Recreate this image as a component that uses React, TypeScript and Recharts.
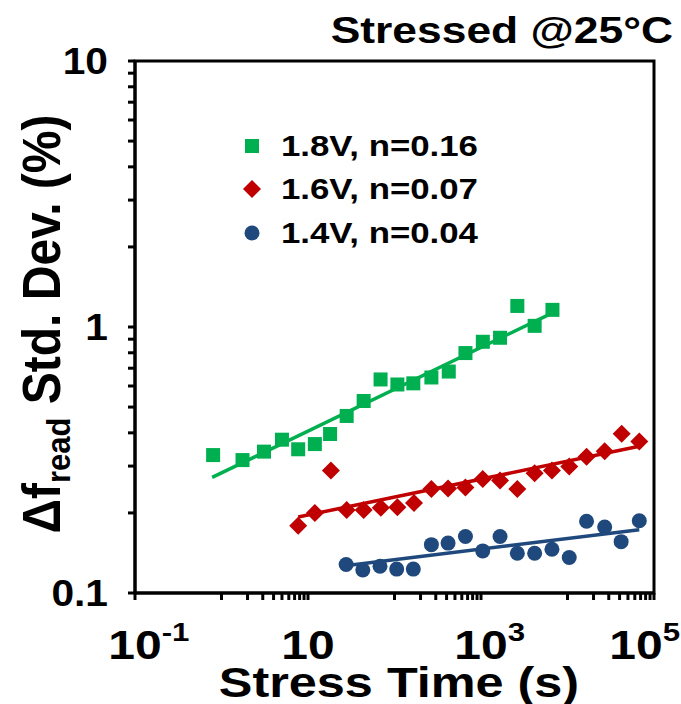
import { ScatterChart, Scatter, XAxis, YAxis, ReferenceArea } from 'recharts';

// 1.8V stress (green squares)
const time18 = [0.8, 1.75, 3.1, 5.0, 7.7, 12, 18, 28, 44, 69, 108, 165, 267, 424, 661, 1050, 1660, 2630, 4170, 6700];
const dev18 = [0.330, 0.316, 0.340, 0.377, 0.347, 0.363, 0.396, 0.463, 0.527, 0.635, 0.608, 0.614, 0.646, 0.680, 0.798, 0.880, 0.911, 1.20, 1.01, 1.16];

// 1.6V stress (red diamonds)
const time16 = [7.7, 12, 18.4, 28, 44, 69.5, 108, 168, 267, 416, 661, 1047, 1660, 2630, 4170, 6610, 10470, 16600, 26900, 42300, 67600];
const dev16 = [0.179, 0.200, 0.289, 0.205, 0.205, 0.209, 0.210, 0.218, 0.246, 0.247, 0.249, 0.268, 0.265, 0.246, 0.282, 0.289, 0.299, 0.325, 0.341, 0.397, 0.371];

// 1.4V stress (blue circles)
const time14 = [27.6, 43, 68, 106, 165, 267, 416, 661, 1047, 1660, 2630, 4170, 6610, 10470, 16600, 26900, 41700, 67600];
const dev14 = [0.128, 0.122, 0.126, 0.123, 0.123, 0.152, 0.154, 0.163, 0.144, 0.163, 0.141, 0.141, 0.146, 0.136, 0.186, 0.177, 0.156, 0.187];

// power-law fit lines, end points
const fitTime18 = [0.78, 6900];
const fitDev18 = [0.272, 1.135];
const fitTime16 = [7.7, 67600];
const fitDev16 = [0.193, 0.356];
const fitTime14 = [28.4, 67600];
const fitDev14 = [0.127, 0.173];

const legendLabels = ['1.8V, n=0.16', '1.6V, n=0.07', '1.4V, n=0.04'];

const xTicks = [0.1, 1, 2, 3, 4, 5, 6, 7, 8, 9, 10, 100, 200, 300, 400, 500, 600, 700, 800, 900, 1000,
  10000, 20000, 30000, 40000, 50000, 60000, 70000, 80000, 90000, 100000];
const xTickLabels = [
  { value: 0.1, exp: '-1' },
  { value: 10, exp: '' },
  { value: 1000, exp: '3' },
  { value: 100000, exp: '5' },
];
const yTicks = [0.1, 0.2, 0.3, 0.4, 0.5, 0.6, 0.7, 0.8, 0.9, 1, 2, 3, 4, 5, 6, 7, 8, 9, 10];
const yTickLabels = [
  { value: 0.1, text: '0.1' },
  { value: 1, text: '1' },
  { value: 10, text: '10' },
];

const GREEN = '#00B050';
const RED = '#C00000';
const BLUE = '#1F497D';
const FONT = '"Liberation Sans", Arial, sans-serif';
const SX = 1.2; // glyphs in the original are a bit wide

const CHART_W = 681;

const toPoints = (xs: number[], ys: number[]) => xs.map((t, i) => ({ t, d: ys[i] }));

const same = (a: number, b: number) => Math.abs(a / b - 1) < 1e-6;

function XTick(props: any) {
  const { x, payload } = props;
  const lab = xTickLabels.find(l => same(l.value, payload.value));
  if (!lab) return <g />;
  const fs = 40;
  const es = 26;
  const baseW = 1.112 * fs * SX;
  const expW = (lab.exp === '-1' ? 0.89 : 0.556) * es * SX * (lab.exp ? 1 : 0);
  // "10" sits centred on the tick, exponent hangs off to the right; keep inside the picture
  let left = x - baseW / 2;
  if (left + baseW + expW > CHART_W - 1) left = CHART_W - 1 - baseW - expW;
  return (
    <g transform={`translate(${left},659) scale(${SX},1)`}>
      <text x={0} y={0} textAnchor="start" fontSize={fs} fontWeight="bold" fontFamily={FONT} fill="#000">
        10
        {lab.exp && <tspan dy={-18} fontSize={es}>{lab.exp}</tspan>}
      </text>
    </g>
  );
}

function YTick(props: any) {
  const { y, payload } = props;
  const lab = yTickLabels.find(l => same(l.value, payload.value));
  if (!lab) return <g />;
  return (
    <g transform={`translate(108,${y + 13}) scale(1.1,1)`}>
      <text x={0} y={0} textAnchor="end" fontSize={37} fontWeight="bold" fontFamily={FONT} fill="#000">
        {lab.text}
      </text>
    </g>
  );
}

const Square = ({ cx, cy }: any) => <rect x={cx - 7} y={cy - 7} width={14} height={14} fill={GREEN} />;
const Diamond = ({ cx, cy }: any) => (
  <polygon points={`${cx},${cy - 9} ${cx + 9},${cy} ${cx},${cy + 9} ${cx - 9},${cy}`} fill={RED} />
);
const Dot = ({ cx, cy }: any) => <circle cx={cx} cy={cy} r={7.5} fill={BLUE} />;
const NoMark = () => <g />;

function Overlay() {
  const rows = [146, 189, 233];
  return (
    <svg width={681} height={704} style={{ position: 'absolute', left: 0, top: 0, pointerEvents: 'none' }}>
      {/* title */}
      <g transform={`translate(673,43) scale(${SX},1)`}>
        <text textAnchor="end" fontSize={37} fontWeight="bold" fontFamily={FONT}>Stressed @25°C</text>
      </g>

      {/* legend */}
      <rect x={245} y={rows[0] - 7} width={14} height={14} fill={GREEN} />
      <polygon points={`252,${rows[1] - 9} 261,${rows[1]} 252,${rows[1] + 9} 243,${rows[1]}`} fill={RED} />
      <circle cx={252} cy={rows[2]} r={7.5} fill={BLUE} />
      {legendLabels.map((s, i) => (
        <g key={s} transform={`translate(281,${rows[i] + 10}) scale(${SX},1)`}>
          <text fontSize={29} fontWeight="bold" fontFamily={FONT}>{s}</text>
        </g>
      ))}

      {/* axis titles */}
      <g transform={`translate(399,697) scale(${SX},1)`}>
        <text textAnchor="middle" fontSize={42} fontWeight="bold" fontFamily={FONT}>Stress Time (s)</text>
      </g>
      <g transform="translate(60,324) scale(1.1,1) rotate(-90)">
        <text textAnchor="middle" fontSize={48} fontWeight="bold" fontFamily={FONT}>
          Δf<tspan dy={9} fontSize={31}>read</tspan><tspan dy={-9}> Std. Dev. (%)</tspan>
        </text>
      </g>
    </svg>
  );
}

export default function App() {
  return (
    <div style={{ position: 'absolute', left: 0, top: 0, width: 681, height: 704, background: '#fff' }}>
      <ScatterChart width={681} height={704} margin={{ top: 61, right: 27, bottom: 51, left: 35 }}>
        <XAxis
          dataKey="t"
          type="number"
          scale="log"
          domain={[0.1, 100000]}
          allowDataOverflow
          ticks={xTicks}
          interval={0}
          minTickGap={0}
          height={60}
          tick={<XTick />}
          tickSize={7}
          tickLine={{ stroke: '#000', strokeWidth: 3 }}
          axisLine={{ stroke: '#000', strokeWidth: 3 }}
        />
        <YAxis
          dataKey="d"
          type="number"
          scale="log"
          domain={[0.1, 10]}
          allowDataOverflow
          ticks={yTicks}
          interval={0}
          minTickGap={0}
          width={100}
          tick={<YTick />}
          tickSize={7}
          tickLine={{ stroke: '#000', strokeWidth: 3 }}
          axisLine={{ stroke: '#000', strokeWidth: 3 }}
        />
        <ReferenceArea x1={0.1} x2={100000} y1={0.1} y2={10} fill="none" stroke="#000" strokeWidth={3} fillOpacity={0} />
        <Scatter data={toPoints(fitTime18, fitDev18)} line={{ stroke: GREEN, strokeWidth: 3.5 }} shape={<NoMark />} isAnimationActive={false} />
        <Scatter data={toPoints(fitTime16, fitDev16)} line={{ stroke: RED, strokeWidth: 3.5 }} shape={<NoMark />} isAnimationActive={false} />
        <Scatter data={toPoints(fitTime14, fitDev14)} line={{ stroke: BLUE, strokeWidth: 3.5 }} shape={<NoMark />} isAnimationActive={false} />
        <Scatter data={toPoints(time18, dev18)} shape={<Square />} isAnimationActive={false} />
        <Scatter data={toPoints(time16, dev16)} shape={<Diamond />} isAnimationActive={false} />
        <Scatter data={toPoints(time14, dev14)} shape={<Dot />} isAnimationActive={false} />
      </ScatterChart>
      <Overlay />
    </div>
  );
}
